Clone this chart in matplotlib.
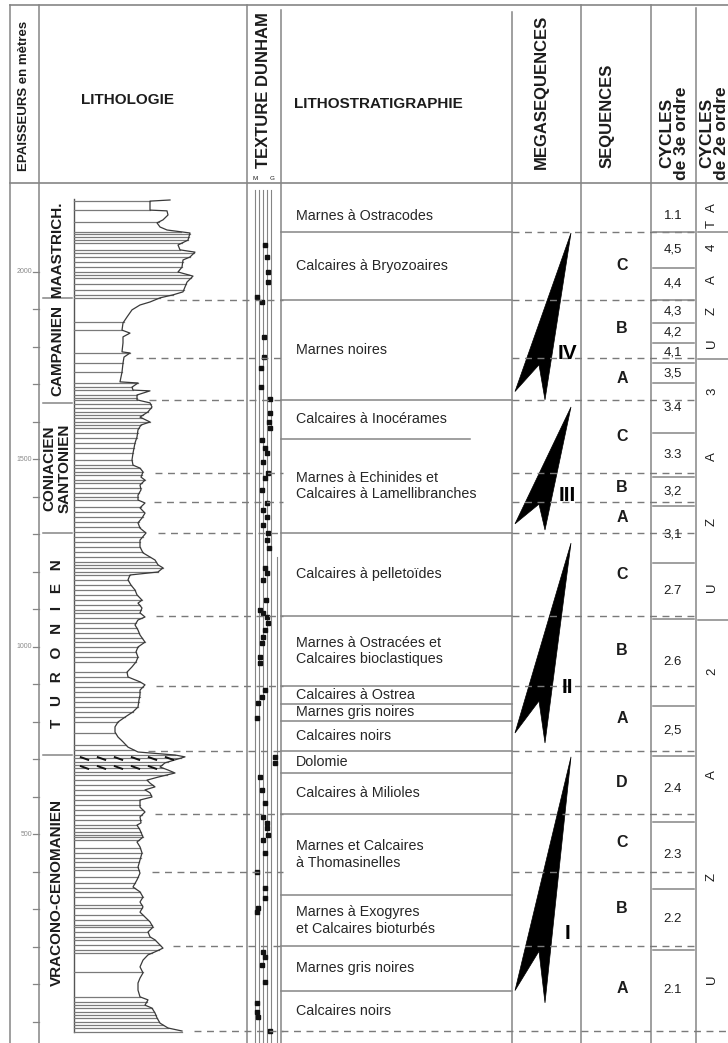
import numpy as np
import matplotlib.pyplot as plt
from matplotlib.patches import Polygon

plt.rcParams['font.family'] = ['Liberation Sans', 'DejaVu Sans']

# ------------------------------------------------------------------ data
# lithology weathering profile: depth (m) and relative hardness width
PROFILE_DEPTH = [2192, 2189, 2165, 2163, 2152, 2139, 2131, 2120, 2112, 2104, 2085, 2072, 2059, 2053,
                 2040, 2032, 2013, 2000, 1989, 1973, 1960, 1947, 1939, 1931, 1920, 1912, 1899, 1880,
                 1864, 1845, 1837, 1827, 1811, 1787, 1784, 1773, 1757, 1733, 1707, 1704, 1693, 1685,
                 1683, 1672, 1659, 1651, 1640, 1627, 1613, 1600, 1592, 1579, 1560, 1544, 1517, 1499,
                 1485, 1477, 1467, 1453, 1445, 1432, 1419, 1405, 1392, 1384, 1371, 1357, 1344, 1331,
                 1317, 1304, 1285, 1267, 1251, 1240, 1232, 1219, 1211, 1200, 1192, 1179, 1165, 1152,
                 1139, 1125, 1117, 1104, 1091, 1080, 1072, 1059, 1045, 1032, 1013, 1000, 987, 973,
                 960, 947, 933, 920, 907, 899, 885, 872, 859, 840, 827, 813, 800, 787, 773, 760, 747,
                 733, 720, 712, 707, 699, 691, 680, 672, 664, 653, 645, 637, 627, 619, 611, 600, 592,
                 573, 560, 547, 531, 525, 512, 493, 480, 467, 451, 432, 413, 397, 379, 360, 347, 333,
                 320, 307, 293, 280, 267, 253, 240, 227, 219, 205, 197, 187, 179, 165, 147, 131, 117,
                 104, 85, 67, 59, 45, 37, 24, 11, -3, -16, -24]
PROFILE_WIDTH = [96, 76, 76, 93, 94, 89, 83, 86, 93, 116, 114, 104, 106, 121,
                 116, 109, 108, 104, 119, 113, 111, 109, 99, 86, 76, 66, 58, 53,
                 49, 48, 56, 49, 49, 48, 56, 50, 49, 48, 46, 64, 58, 59,
                 76, 63, 63, 76, 78, 74, 66, 76, 67, 64, 63, 61, 59, 58,
                 59, 66, 69, 67, 71, 66, 67, 64, 64, 71, 66, 71, 68, 64,
                 66, 72, 66, 66, 69, 76, 81, 84, 89, 84, 56, 54, 57, 61,
                 63, 68, 64, 68, 66, 71, 64, 61, 64, 66, 71, 64, 62, 64,
                 62, 58, 53, 54, 66, 71, 66, 66, 65, 64, 59, 51, 44, 41, 41, 44, 49,
                 54, 64, 101, 111, 101, 91, 86, 94, 101, 84, 73, 76, 81, 71, 76, 78, 66,
                 66, 71, 66, 67, 63, 66, 69, 63, 66, 68, 66, 64, 66, 63, 59, 66, 69,
                 66, 69, 66, 71, 76, 79, 74, 76, 81, 86, 89, 81, 74, 69, 66, 69, 66,
                 64, 64, 66, 74, 71, 78, 81, 83, 86, 94, 108]

# bed boundaries (m)
BED_TOPS = [2189, 2165, 2133, 2107, 2101, 2093, 2085, 2077, 2059, 2051, 2040, 2027, 2013, 2000,
            1992, 1984, 1968, 1952, 1939, 1931, 1867, 1845, 1784, 1757, 1733, 1704, 1693, 1685,
            1672, 1664, 1659, 1648, 1637, 1627, 1619, 1611, 1600, 1592, 1584, 1571, 1557, 1544,
            1531, 1517, 1499, 1485, 1477, 1467, 1459, 1445, 1437, 1424, 1411, 1400, 1392, 1373,
            1360, 1347, 1333, 1320, 1307, 1293, 1280, 1267, 1253, 1240, 1227, 1219, 1211, 1200,
            1192, 1179, 1165, 1152, 1139, 1125, 1112, 1099, 1091, 1077, 1064, 1051, 1037, 1024,
            1013, 1000, 987, 973, 960, 933, 920, 907, 893, 880, 867, 853, 840, 827, 813, 800,
            771, 739, 725, 712, 704, 693, 685, 677, 667, 659, 645, 632, 619, 605, 592, 579, 565,
            552, 539, 525, 517, 507, 499, 493, 485, 464, 451, 437, 427, 413, 405, 387, 371, 357,
            347, 333, 312, 304, 285, 272, 259, 253, 240, 227, 219, 205, 192, 184, 133, 67, 53,
            45, 37, 27, 19, 11, 0, -8, -16, -27]

# Dunham texture readings (0 = mudstone ... 4 = grainstone)
TEXTURE_DEPTH = [2072, 2040, 2000, 1973, 1933, 1920, 1827, 1773, 1744, 1693, 1661, 1624, 1600,
                 1584, 1552, 1531, 1517, 1493, 1464, 1451, 1419, 1384, 1365, 1347, 1325, 1304,
                 1285, 1264, 1211, 1197, 1179, 1125, 1099, 1091, 1080, 1064, 1045, 1027, 1011,
                 973, 957, 885, 867, 851, 811, 707, 691, 653, 619, 584, 547, 531, 517, 499, 485,
                 451, 400, 357, 331, 304, 293, 187, 173, 152, 107, 51, 27, 13, -24]
TEXTURE_CLASS = [2.5, 3.0, 3.2, 3.2, 0.5, 1.8, 2.2, 2.2, 1.5, 1.5, 3.8, 3.8, 3.5,
                 3.8, 1.8, 2.5, 3.0, 2.0, 3.2, 2.5, 1.8, 3.0, 2.0, 3.0, 2.0, 3.2,
                 3.0, 3.5, 2.5, 3.0, 2.0, 2.8, 1.2, 2.0, 3.0, 3.2, 2.5, 2.0, 1.8,
                 1.2, 1.2, 2.5, 1.8, 0.8, 0.5, 5.0, 5.0, 1.2, 1.8, 2.5, 2.0, 3.0, 3.0, 3.2, 2.0,
                 2.5, 0.5, 2.5, 2.5, 0.8, 0.5, 2.0, 2.5, 1.8, 2.5, 0.5, 0.5, 0.8, 3.8]

DEPTH_LABELS = [500, 1000, 1500, 2000]

STAGE_NAMES = ["MAASTRICH.", "CAMPANIEN", "CONIACIEN\nSANTONIEN",
               "T   U   R   O   N   I   E   N", "VRACONO-CENOMANIEN"]
STAGE_TOPS = [2192, 1931, 1651, 1304, 712]
STAGE_BASES = [1931, 1651, 1304, 712, -24]

UNIT_NAMES = ["Marnes à Ostracodes", "Calcaires à Bryozoaires", "Marnes noires",
              "Calcaires à Inocérames", "Marnes à Echinides et\nCalcaires à Lamellibranches",
              "Calcaires à pelletoïdes", "Marnes à Ostracées et\nCalcaires bioclastiques",
              "Calcaires à Ostrea", "Marnes gris noires", "Calcaires noirs", "Dolomie",
              "Calcaires à Milioles", "Marnes et Calcaires\nà Thomasinelles",
              "Marnes à Exogyres\net Calcaires bioturbés", "Marnes gris noires",
              "Calcaires noirs"]
UNIT_TOPS = [2192, 2107, 1925, 1659, 1555, 1304, 1083, 896, 848, 803, 723, 664, 555, 339, 203, 83]
UNIT_BASES = [2107, 1925, 1659, 1555, 1304, 1083, 896, 848, 803, 723, 664, 555, 339, 203, 83, -24]

MEGA_NAMES = ["IV", "III", "II", "I"]
MEGA_TOPS = [2104, 1640, 1277, 707]
MEGA_BASES = [1659, 1312, 744, 51]

SEQ_NAMES = ["C", "B", "A", "C", "B", "A", "C", "B", "A", "D", "C", "B", "A"]
SEQ_BOUNDS = [2107, 1925, 1771, 1659, 1464, 1387, 1304, 1083, 896, 723, 555, 400, 203, -24]

CYCLE3_NAMES = ["1.1", "4,5", "4,4", "4,3", "4,2", "4,1", "3,5", "3.4", "3.3", "3,2", "3,1",
                "2.7", "2.6", "2,5", "2.4", "2.3", "2.2", "2.1"]
CYCLE3_BOUNDS = [2192, 2107, 2011, 1925, 1864, 1811, 1757, 1704, 1571, 1453, 1376,
                 1224, 1075, 843, 709, 533, 355, 192, -24]

CYCLE2_NAMES = ["TA", "UZA4", "UZA3", "UZA2"]
CYCLE2_BOUNDS = [2192, 2107, 1768, 1072, -24]

# ------------------------------------------------------------------ layout
W, H, HEAD = 728, 1043, 183
X_LEFT, X_DEPTH, X_LITHO = 10, 39, 74
X_TEX0, X_TEX1, X_MEGA, X_SEQ, X_C3, X_C2 = 247, 281, 512, 581, 651, 696
TEX_X = [255, 259, 263, 267, 271]
GRID = '#858585'
INK = '#1c1c1c'

fig = plt.figure(figsize=(W / 100, H / 100), dpi=100)
head = fig.add_axes([0, 1 - HEAD / H, 1, HEAD / H])
head.set_xlim(0, W)
head.set_ylim(HEAD, 0)
head.axis('off')
body = fig.add_axes([0, 0, 1, (H - HEAD) / H])
body.set_xlim(0, W)
body.set_ylim(-56, 2237.3)
body.axis('off')

# ---- header
head.plot([X_LEFT, W], [5, 5], color=GRID, lw=1.2)
head.plot([X_LEFT, W], [HEAD - 0.5, HEAD - 0.5], color=GRID, lw=1.2, clip_on=False)
for x, y0 in [(X_LEFT, 5), (X_DEPTH, 5), (X_TEX0, 5), (X_TEX1, 10), (X_MEGA, 12),
              (X_SEQ, 5), (X_C3, 5), (X_C2, 8)]:
    head.plot([x, x], [y0, HEAD], color=GRID, lw=1.1)

head.text(24, 96, "EPAISSEURS en mètres", rotation=90, ha='center', va='center',
          fontsize=9.5, fontweight='bold', color=INK)
head.text(127, 100, "LITHOLOGIE", ha='center', va='center', fontsize=11,
          fontweight='bold', color=INK)
head.text(264, 90, "TEXTURE DUNHAM", rotation=90, ha='center', va='center',
          fontsize=12, fontweight='bold', color=INK)
head.text(TEX_X[0], 178, "M", ha='center', va='center', fontsize=4.5, color=INK)
head.text(TEX_X[-1] + 1, 178, "G", ha='center', va='center', fontsize=4.5, color=INK)
head.text(294, 104, "LITHOSTRATIGRAPHIE", ha='left', va='center', fontsize=11,
          fontweight='bold', color=INK)
head.text(541, 92, "MEGASEQUENCES", rotation=90, ha='center', va='center',
          fontsize=12, fontweight='bold', color=INK)
head.text(607, 116, "SEQUENCES", rotation=90, ha='center', va='center',
          fontsize=12, fontweight='bold', color=INK)
head.text(674, 180, "CYCLES\nde 3e ordre", rotation=90, ha='center', va='bottom',
          fontsize=12.5, fontweight='bold', color=INK, linespacing=1.0)
head.text(714, 180, "CYCLES\nde 2e ordre", rotation=90, ha='center', va='bottom',
          fontsize=12.5, fontweight='bold', color=INK, linespacing=1.0)

# ---- body frame
for x in [X_LEFT, X_DEPTH, X_TEX0, X_TEX1, X_MEGA, X_SEQ, X_C3, X_C2]:
    body.axvline(x, color=GRID, lw=1.1)
for x in TEX_X:
    body.plot([x, x], [2219, -56], color=GRID, lw=0.8)
body.plot([277, 277], [1240, -56], color=GRID, lw=0.8)

# ---- depth scale
for d in range(0, 2001, 100):
    body.plot([33, X_DEPTH], [d, d], color=GRID, lw=0.9)
for d in DEPTH_LABELS:
    body.text(32, d, str(d), ha='right', va='center', fontsize=5, color='#8a8a8a')

# ---- stages
for name, top, base in zip(STAGE_NAMES, STAGE_TOPS, STAGE_BASES):
    body.text(57, (top + base) / 2, name, rotation=90, ha='center', va='center',
              fontsize=11, fontweight='bold', color=INK, linespacing=1.1)
for top in STAGE_TOPS[1:]:
    body.plot([43, 72], [top, top], color=GRID, lw=1.1)

# ---- lithology column
prof_d = np.array(PROFILE_DEPTH)[::-1]
prof_w = np.array(PROFILE_WIDTH)[::-1]


def edge(depth):
    return X_LITHO + np.interp(depth, prof_d, prof_w)


body.plot([X_LITHO, X_LITHO], [2194, -27], color='#555555', lw=1.0)
for d in BED_TOPS:
    body.plot([X_LITHO, edge(d)], [d, d], color='#7a7a7a', lw=0.9)
body.plot(X_LITHO + np.array(PROFILE_WIDTH), PROFILE_DEPTH, color='#3a3a3a', lw=0.9)

# dolomite symbol
dol = UNIT_NAMES.index("Dolomie")
for frac in (0.3, 0.75):
    d = UNIT_TOPS[dol] - frac * (UNIT_TOPS[dol] - UNIT_BASES[dol])
    xs = np.arange(X_LITHO + 10, edge(d) - 4, 17)
    body.plot(xs, np.full(len(xs), d), ls='none', marker=(2, 0, 70), ms=7,
              mec='#111111', mew=1.4)

# ---- texture
body.plot(TEX_X[0] + np.array(TEXTURE_CLASS) * 4, TEXTURE_DEPTH, ls='none', marker='s',
          ms=2.6, color='#111111')

# ---- sequence boundaries (dashed)
dash = dict(color='#7a7a7a', lw=1.0, ls=(0, (5, 4)))
for i, d in enumerate(SEQ_BOUNDS):
    if i > 0:
        body.plot([edge(d) + 12, X_TEX1 + 2], [d, d], **dash)
    if i == len(SEQ_BOUNDS) - 1:
        body.plot([X_TEX1, W], [d, d], **dash)
    else:
        body.plot([X_MEGA, X_C2], [d, d], **dash)

# ---- lithostratigraphy
for name, top, base in zip(UNIT_NAMES, UNIT_TOPS, UNIT_BASES):
    body.text(296, (top + base) / 2, name, ha='left', va='center', fontsize=10.3,
              color='#262626', linespacing=1.25)
for base in UNIT_BASES[:-1]:
    x1 = 470 if base == 1555 else X_MEGA
    body.plot([X_TEX1, x1], [base, base], color=GRID, lw=1.1)

# ---- megasequences
for name, top, base in zip(MEGA_NAMES, MEGA_TOPS, MEGA_BASES):
    h = top - base
    spike = [(571, top), (515, top - 0.95 * h), (539, top - 0.79 * h), (545, base)]
    body.add_patch(Polygon(spike, closed=True, facecolor='black', edgecolor='black', lw=0.5))
    body.text(567, top - 0.72 * h, name, ha='center', va='center', fontsize=15,
              fontweight='bold', color='black')

# ---- sequences
for name, top, base in zip(SEQ_NAMES, SEQ_BOUNDS[:-1], SEQ_BOUNDS[1:]):
    body.text(622, (top + base) / 2, name, ha='center', va='center', fontsize=11.5,
              fontweight='bold', color=INK)

# ---- 3rd-order cycles
for name, top, base in zip(CYCLE3_NAMES, CYCLE3_BOUNDS[:-1], CYCLE3_BOUNDS[1:]):
    body.text(673, (top + base) / 2, name, ha='center', va='center', fontsize=9.5,
              color=INK)
for b in CYCLE3_BOUNDS[1:-1]:
    body.plot([X_C3 + 2, X_C2 - 2], [b, b], color=GRID, lw=1.1)

# ---- 2nd-order cycles, letters spread along each cycle, read upward
for name, top, base in zip(CYCLE2_NAMES, CYCLE2_BOUNDS[:-1], CYCLE2_BOUNDS[1:]):
    n = len(name)
    for i, ch in enumerate(name):
        d = base + (i + 0.5) * (top - base) / n
        body.text(712, d, ch, rotation=90, ha='center', va='center', fontsize=9.5, color=INK)
for b in CYCLE2_BOUNDS[1:-1]:
    body.plot([X_C2 + 2, W], [b, b], color=GRID, lw=1.1)

fig.savefig('out.png', dpi=100)
